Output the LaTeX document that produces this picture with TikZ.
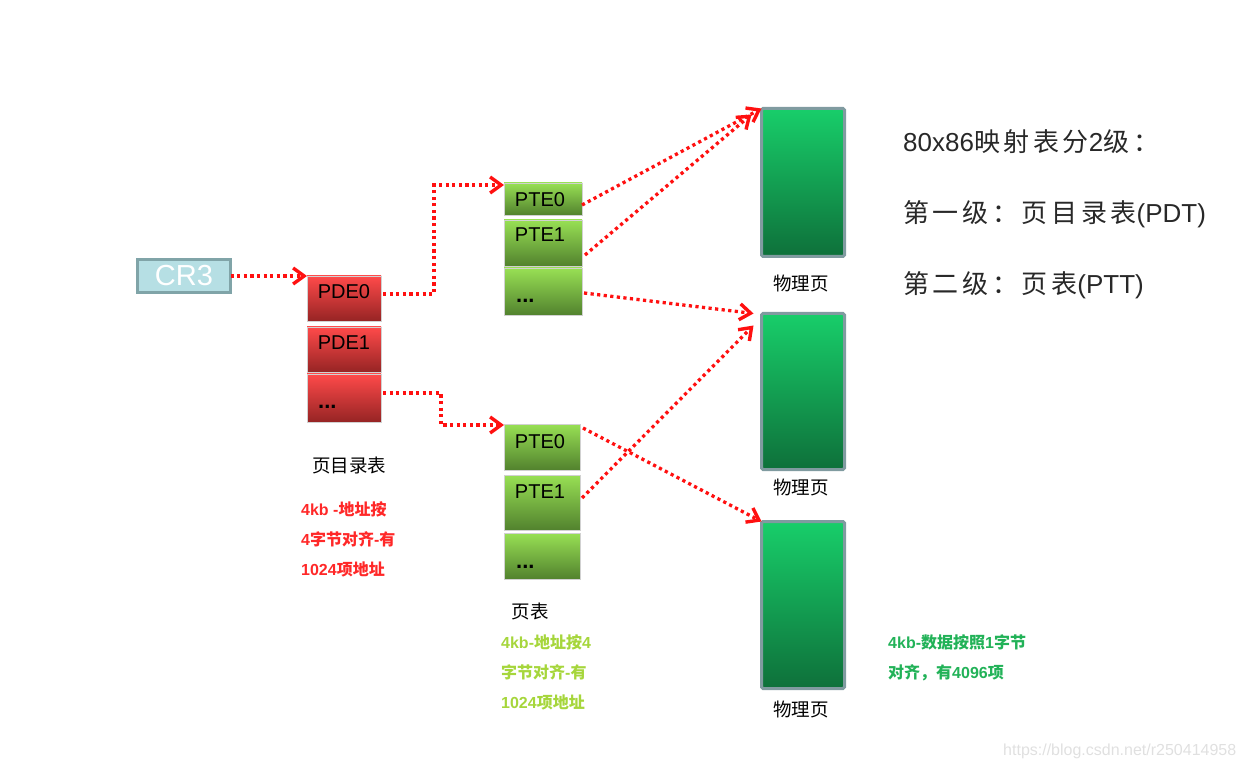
\documentclass[tikz,border=0pt]{standalone}
\usepackage{fontspec}
\setmainfont{Liberation Sans}
\newfontfamily\cjk{Noto Sans CJK SC}
\newfontfamily\cjkw{Noto Sans CJK SC}[LetterSpace=14]
\usetikzlibrary{arrows.meta,calc}
\definecolor{pdetop}{RGB}{255,74,74}
\definecolor{pdebot}{RGB}{150,36,36}
\definecolor{ptetop}{RGB}{152,224,84}
\definecolor{ptebot}{RGB}{82,130,46}
\definecolor{pgtop}{RGB}{24,206,106}
\definecolor{pgbot}{RGB}{14,112,58}
\definecolor{pgborder}{RGB}{128,155,160}
\definecolor{crfill}{RGB}{182,223,228}
\definecolor{crborder}{RGB}{128,164,168}
\definecolor{linkred}{RGB}{255,16,16}
\definecolor{notered}{RGB}{255,40,40}
\definecolor{noteyg}{RGB}{166,214,60}
\definecolor{notegreen}{RGB}{34,178,88}
\definecolor{txtgray}{RGB}{40,40,40}
\tikzset{
  cell/.style={draw=white!82!black, line width=0.6pt, inner sep=0pt, outer sep=0pt},
  pdebox/.style={cell, top color=pdetop, bottom color=pdebot, minimum width=74pt},
  ptebox/.style={cell, top color=ptetop, bottom color=ptebot},
  pagebox/.style={draw=pgborder, line width=3pt, rounded corners=1.5pt, top color=pgtop, bottom color=pgbot, minimum width=83pt, inner sep=0pt, outer sep=0pt},
  celltxt/.style={inner sep=0pt, font=\fontsize{20}{22}\selectfont, text=black},
  dotstxt/.style={inner sep=0pt, font=\fontsize{22}{24}\selectfont\bfseries, text=black, anchor=base west},
  lbl/.style={inner sep=0pt, font=\fontsize{18.5}{20}\selectfont\cjk, text=black},
  note/.style={inner sep=0pt, anchor=base west, font=\fontsize{16}{18}\selectfont\bfseries},
  head/.style={inner sep=0pt, anchor=base west, font=\fontsize{26}{28}\selectfont, text=txtgray},
  link/.style={draw=linkred, line width=3.3pt, dash pattern=on 3.2pt off 3.4pt,
    -{Straight Barb[length=11pt,width=16pt,line width=3.4pt]}}
}
\begin{document}
\begin{tikzpicture}[x=1pt,y=-1pt]
\useasboundingbox (0,0) rectangle (1243,767);

% CR3
\node[draw=crborder, fill=crfill, line width=3pt, minimum width=93pt, minimum height=33pt,
      inner sep=0pt, outer sep=0pt, font=\fontsize{29}{30}\selectfont, text=white] (cr3) at (184,276) {CR3};

% page directory
\node[pdebox, minimum height=45pt] (pde0) at (344,298.5) {};
\node[pdebox, minimum height=45pt] (pde1) at (344,349.5) {};
\node[pdebox, minimum height=48pt] (pde2) at (344,398) {};
\node[celltxt, anchor=base] (pde0t) at (344,299) {PDE0};
\node[celltxt, anchor=base] (pde1t) at (344,350) {PDE1};
\node[dotstxt] (pde2t) at (318,408) {...};

% upper page table
\node[ptebox, minimum width=78pt, minimum height=32pt] (pteA0) at (543,199) {};
\node[ptebox, minimum width=78pt, minimum height=46pt] (pteA1) at (543,243) {};
\node[ptebox, minimum width=78pt, minimum height=47pt] (pteA2) at (543,291.5) {};
\node[celltxt, anchor=base] (pteA0t) at (540,207) {PTE0};
\node[celltxt, anchor=base] (pteA1t) at (540,242) {PTE1};
\node[dotstxt] (pteA2t) at (516,303) {...};

% lower page table
\node[ptebox, minimum width=76pt, minimum height=46pt] (pteB0) at (542,447) {};
\node[ptebox, minimum width=76pt, minimum height=55pt] (pteB1) at (542,502.5) {};
\node[ptebox, minimum width=76pt, minimum height=46pt] (pteB2) at (542,556) {};
\node[celltxt, anchor=base] (pteB0t) at (540,448) {PTE0};
\node[celltxt, anchor=base] (pteB1t) at (540,498) {PTE1};
\node[dotstxt] (pteB2t) at (516,568) {...};

% physical pages
\node[pagebox, minimum height=148pt] (page1) at (803,182.5) {};
\node[pagebox, minimum height=156pt] (page2) at (803,391.5) {};
\node[pagebox, minimum height=167pt] (page3) at (803,605) {};
\node[lbl] (page1l) at (801,283) {物理页};
\node[lbl] (page2l) at (801,487) {物理页};
\node[lbl] (page3l) at (801,709) {物理页};

% labels
\node[lbl] (pdtl) at (349,465) {页目录表};
\node[lbl] (ptl) at (530,611) {页表};

% notes
\node[note, text=notered] (n1) at (301,515) {4kb -{\cjk 地址按}};
\node[note, text=notered] (n2) at (301,545) {4{\cjk 字节对齐}-{\cjk 有}};
\node[note, text=notered] (n3) at (301,575) {1024{\cjk 项地址}};
\node[note, text=noteyg] (n4) at (501,648) {4kb-{\cjk 地址按}4};
\node[note, text=noteyg] (n5) at (501,678) {{\cjk 字节对齐}-{\cjk 有}};
\node[note, text=noteyg] (n6) at (501,708) {1024{\cjk 项地址}};
\node[note, text=notegreen] (n7) at (888,648) {4kb-{\cjk 数据按照}1{\cjk 字节}};
\node[note, text=notegreen] (n8) at (888,678) {{\cjk 对齐，有}4096{\cjk 项}};

% heading text
\node[head] (h1) at (903,152) {80x86{\cjkw 映射表分}2{\cjkw 级：}};
\node[head] (h2) at (903,223) {{\cjkw 第一级：页目录表}(PDT)};
\node[head] (h3) at (903,294) {{\cjkw 第二级：页表}(PTT)};

% watermark
\node[inner sep=0pt, anchor=base west, font=\fontsize{16}{18}\selectfont, text=black!12] (wm) at (1003,755) {https://blog.csdn.net/r250414958};

% connectors
\draw[link] (cr3.east) -- (cr3.east -| pde0.west);
\draw[link] ($(pde0.east)+(2,-4.5)$) -- ++(51,0) |- ($(pteA0.north west)+(0,2)$);
\draw[link] ($(pde2.east)+(2,-5)$) -- ++(58,0) |- ($(pteB0.north west)+(0,1)$);
\draw[link] ($(pteA0.east)+(0,6)$) -- (page1.north west);
\draw[link] ($(pteA1.east)+(3,12)$) -- ($(page1.north west)+(-10,6)$);
\draw[link] ($(pteA2.east)+(2,1.5)$) -- ($(page2.north west)+(-8,0)$);
\draw[link] ($(pteB0.east)+(3,-19)$) -- (page3.north west);
\draw[link] ($(pteB1.east)+(2,-4.5)$) -- ($(page2.north west)+(-8,12)$);
\end{tikzpicture}
\end{document}
